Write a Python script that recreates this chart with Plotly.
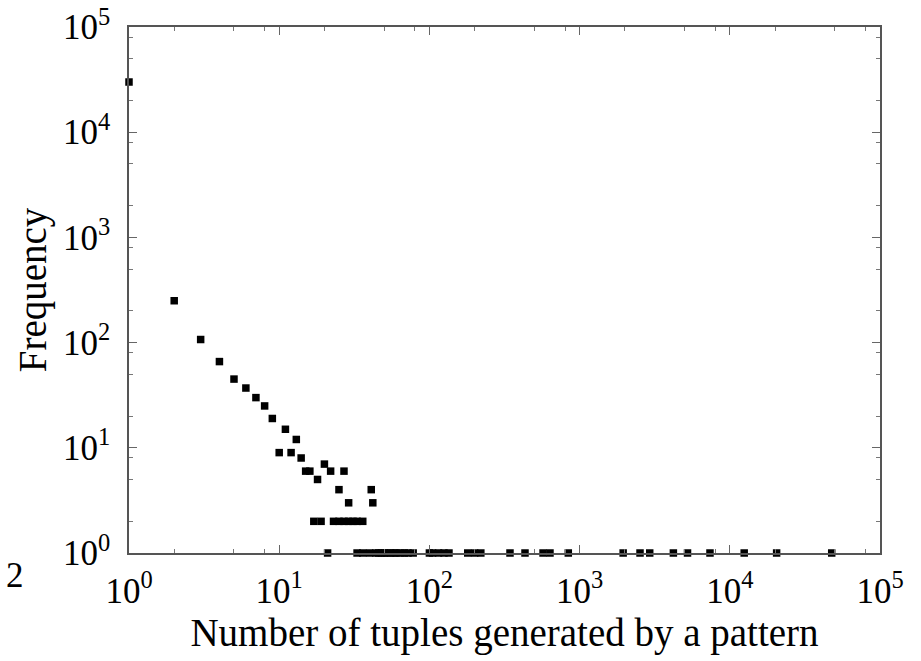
import plotly.graph_objects as go

# Data (number of tuples generated -> frequency)
tuples_count = [1, 2, 3, 4, 5, 6, 7, 8, 9, 10, 11, 12, 13, 14, 15, 16, 17, 18, 19, 20,
                22, 23, 25, 25, 27, 27, 29, 29, 31, 33, 36, 41, 42,
                21, 33, 36, 40, 44, 46, 48, 50, 52, 55, 58, 60, 64, 68, 72, 78,
                100, 105, 115, 125, 135, 180, 200, 220, 344, 433, 571, 635, 841,
                1950, 2525, 2930, 4210, 5230, 7380, 12470, 20500, 47700]
frequency = [30000, 250, 107, 66, 45, 37, 30, 25, 19, 9, 15, 9, 12, 8, 6, 6, 2, 5, 2, 7,
             6, 2, 2, 4, 2, 6, 2, 3, 2, 2, 2, 4, 3,
             1, 1, 1, 1, 1, 1, 1, 1, 1, 1, 1, 1, 1, 1, 1, 1,
             1, 1, 1, 1, 1, 1, 1, 1, 1, 1, 1, 1, 1,
             1, 1, 1, 1, 1, 1, 1, 1, 1]

major_vals = [1, 10, 100, 1000, 10000, 100000]
major_text = ["10<sup>0</sup>", "10<sup>1</sup>", "10<sup>2</sup>", "10<sup>3</sup>",
              "10<sup>4</sup>", "10<sup>5</sup>"]
minor_mult = [2, 5, 8]
minor_vals = [m * d for d in [1, 10, 100, 1000, 10000] for m in minor_mult]

x_title = "Number of tuples generated by a pattern"
y_title = "Frequency"

FONT = "Liberation Serif, Times New Roman, serif"

fig = go.Figure()
fig.add_trace(go.Scatter(
    x=tuples_count, y=frequency, mode="markers",
    marker=dict(symbol="square", size=7.5, color="black", line=dict(width=0)),
    cliponaxis=False, showlegend=False,
))

axis_common = dict(
    type="log", range=[0, 5], automargin=False,
    tickmode="array", tickvals=major_vals, ticktext=major_text,
    ticks="inside", ticklen=8, tickwidth=1.3, tickcolor="#666",
    showline=True, linecolor="#555", linewidth=1.6, mirror="ticks",
    showgrid=False, zeroline=False,
    tickfont=dict(family=FONT, size=35, color="black"),
    minor=dict(tickmode="array", tickvals=minor_vals, ticks="inside",
               ticklen=4, tickwidth=1, tickcolor="#777", showgrid=False),
)

fig.update_layout(
    width=921, height=661,
    margin=dict(l=129, r=41, t=27, b=108),
    paper_bgcolor="white", plot_bgcolor="white",
    font=dict(family=FONT, color="black"),
    xaxis=dict(axis_common, title=dict(text=x_title, font=dict(family=FONT, size=39), standoff=4)),
    yaxis=dict(axis_common, title=dict(text=y_title, font=dict(family=FONT, size=39), standoff=4)),
)
fig.update_xaxes(ticklabelstandoff=6)
fig.update_yaxes(ticklabelstandoff=10)

fig.add_annotation(text="2", xref="paper", yref="paper", x=-0.152, y=-0.042,
                   xanchor="center", yanchor="middle",
                   showarrow=False, font=dict(family=FONT, size=35, color="black"))

fig.write_html("out.html")
